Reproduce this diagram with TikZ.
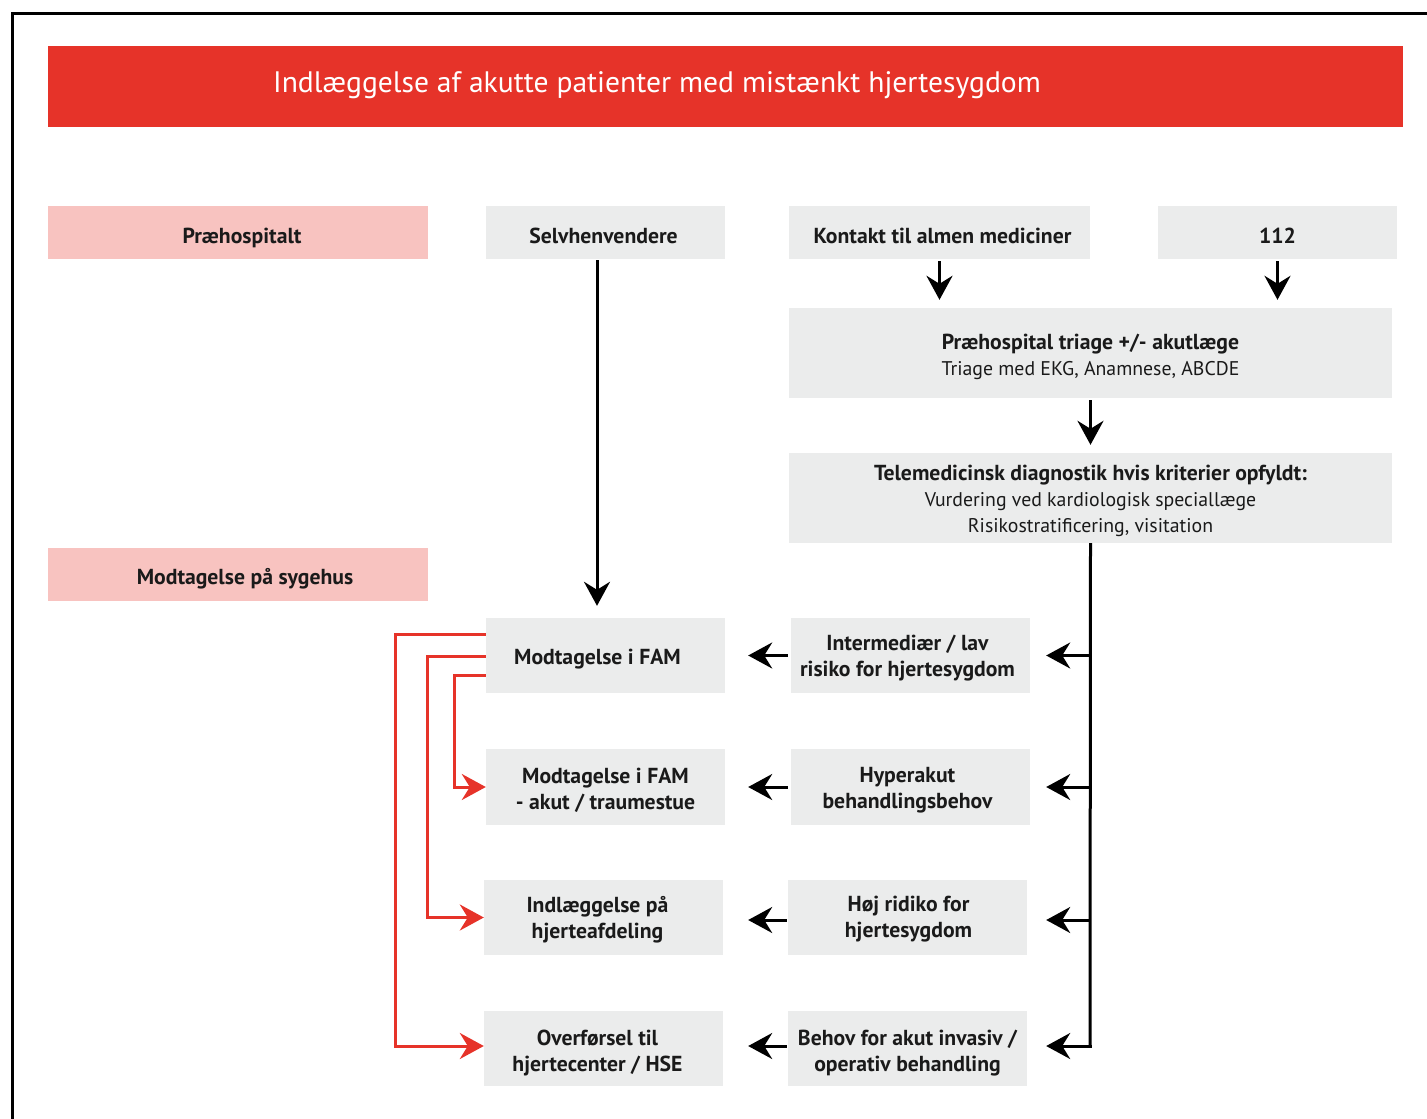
\documentclass[tikz,border=0pt]{standalone}
\usepackage{fontspec}
\setmainfont{PT Sans}
\usetikzlibrary{arrows.meta}
\definecolor{hred}{HTML}{E63329}
\definecolor{hpink}{HTML}{F8C3C0}
\definecolor{hgray}{HTML}{EBECEC}
\definecolor{htext}{HTML}{1A1A1A}
\newcommand{\bt}{\fontsize{21.7}{26}\selectfont\bfseries}
\newcommand{\rt}{\fontsize{19.8}{26}\selectfont\mdseries}
\tikzset{
  gbox/.style={rectangle, inner sep=0pt, fill=hgray},
  pbox/.style={rectangle, inner sep=0pt, fill=hpink},
  lbl/.style={inner sep=0pt, align=center, text=htext, font=\bt},
  arr/.style={line width=3pt, draw=black, -{Stealth[length=24pt, width=26pt, inset=8pt]}},
  rarr/.style={line width=3pt, draw=hred, -{Stealth[length=24pt, width=26pt, inset=8pt]}},
  blk/.style={line width=3pt, draw=black},
}
\begin{document}
\begin{tikzpicture}[x=1pt, y=-1pt]
\useasboundingbox (0,0) rectangle (1427,1119);
% frame
\draw[line width=3pt] (12,1125) -- (12,13) -- (1435,13);
% title bar
\node[rectangle, fill=hred, minimum width=1355pt, minimum height=81pt, inner sep=0pt] (title) at (725.5,86.5) {};
\node[text=white, font=\fontsize{29.6}{32}\selectfont, anchor=base] (titletext) at (657,92.5) {Indlæggelse af akutte patienter med mistænkt hjertesygdom};
% phase labels
\node[pbox, minimum width=380pt, minimum height=53pt] (praehosp) at (238,232.5) {};
\node[lbl] (tpraehosp) at ([xshift=4pt,yshift=-5.5pt]praehosp.center) {Præhospitalt};
\node[pbox, minimum width=380pt, minimum height=53pt] (modsyg) at (238,574.5) {};
\node[lbl] (tmodsyg) at ([xshift=7pt,yshift=-4pt]modsyg.center) {Modtagelse på sygehus};
% top row
\node[gbox, minimum width=239pt, minimum height=53pt] (self) at (605.5,232.5) {};
\node[lbl] (tself) at ([xshift=-2pt,yshift=-3pt]self.center) {Selvhenvendere};
\node[gbox, minimum width=301pt, minimum height=53pt] (kontakt) at (939.5,232.5) {};
\node[lbl] (tkontakt) at ([xshift=3pt,yshift=-3pt]kontakt.center) {Kontakt til almen mediciner};
\node[gbox, minimum width=239pt, minimum height=53pt] (n112) at (1277.5,232.5) {};
\node[lbl] (tn112) at ([yshift=-3pt]n112.center) {112};
\node[gbox, minimum width=603pt, minimum height=90pt] (triage) at (1090.5,353) {};
\node[lbl] (ttriage) at ([yshift=-4pt]triage.center) {Præhospital triage +/- akutlæge\\\rt Triage med EKG, Anamnese, ABCDE};
\node[gbox, minimum width=603pt, minimum height=90pt] (tele) at (1090.5,498) {};
\node[lbl] (ttele) at ([yshift=-3pt]tele.center) {Telemedicinsk diagnostik hvis kriterier opfyldt:\\\rt Vurdering ved kardiologisk speciallæge\\\rt Risikostratificering, visitation};
% left column
\node[gbox, minimum width=239pt, minimum height=75pt] (fam) at (605.5,655.5) {};
\node[lbl] (tfam) at ([xshift=-8pt,yshift=-4pt]fam.center) {Modtagelse i FAM};
\node[gbox, minimum width=239pt, minimum height=76pt] (famakut) at (605.5,787) {};
\node[lbl] (tfamakut) at ([yshift=-3pt]famakut.center) {Modtagelse i FAM\\- akut / traumestue};
\node[gbox, minimum width=239pt, minimum height=75pt] (indl) at (603.5,917.5) {};
\node[lbl] (tindl) at ([xshift=-6pt,yshift=-2pt]indl.center) {Indlæggelse på\\hjerteafdeling};
\node[gbox, minimum width=239pt, minimum height=75pt] (overf) at (603.5,1048.5) {};
\node[lbl] (toverf) at ([xshift=-6pt,yshift=-4.5pt]overf.center) {Overførsel til\\hjertecenter / HSE};
% right column
\node[gbox, minimum width=239pt, minimum height=75pt] (inter) at (910.5,655.5) {};
\node[lbl] (tinter) at ([xshift=-3pt,yshift=-3pt]inter.center) {Intermediær / lav\\risiko for hjertesygdom};
\node[gbox, minimum width=239pt, minimum height=76pt] (hyper) at (910.5,787) {};
\node[lbl] (thyper) at ([xshift=-3pt,yshift=-3pt]hyper.center) {Hyperakut\\behandlingsbehov};
\node[gbox, minimum width=239pt, minimum height=75pt] (hoej) at (907.5,917.5) {};
\node[lbl] (thoej) at ([xshift=1pt,yshift=-1.5pt]hoej.center) {Høj ridiko for\\hjertesygdom};
\node[gbox, minimum width=239pt, minimum height=75pt] (behov) at (907.5,1048.5) {};
\node[lbl] (tbehov) at ([yshift=-4.5pt]behov.center) {Behov for akut invasiv /\\operativ behandling};
% connectors top
\draw[arr, shorten <=1pt, shorten >=12pt] (self.south -| 597,0) -- (fam.north -| 597,0);
\draw[arr, shorten <=2pt, shorten >=8pt] (kontakt.south) -- (kontakt.south |- triage.north);
\draw[arr, shorten <=2pt, shorten >=8pt] (n112.south) -- (n112.south |- triage.north);
\draw[arr, shorten <=2pt, shorten >=8pt] (triage.south) -- (tele.north);
% trunk
\coordinate (trunkend) at (1090,1046);
\draw[blk] (tele.south) -- ([yshift=-1.5pt]trunkend);
\draw[arr, shorten >=16pt] (trunkend |- inter.east) -- (inter.east);
\draw[arr, shorten >=16pt] (trunkend |- hyper.east) -- (hyper.east);
\draw[arr, shorten >=19pt] ([yshift=-2.5pt]trunkend |- hoej.east) -- ([yshift=-2.5pt]hoej.east);
\draw[arr, shorten >=19pt] ([xshift=1.5pt]trunkend) -- (trunkend -| behov.east);
% middle arrows
\draw[arr, shorten <=3pt, shorten >=23pt] (inter.west) -- (fam.east);
\draw[arr, shorten <=3pt, shorten >=23pt] (hyper.west) -- (famakut.east);
\draw[arr, shorten <=1pt, shorten >=25pt] ([yshift=-2.5pt]hoej.west) -- ([yshift=-2.5pt]indl.east);
\draw[arr, shorten <=1pt, shorten >=25pt] ([yshift=2.5pt]behov.west) -- ([yshift=2.5pt]overf.east);
% red connectors
\draw[rarr] ([yshift=21.5pt]fam.west) -- ++(-90,0) |- ([yshift=2.5pt]overf.west);
\draw[rarr] ([yshift=-0.5pt]fam.west) -- ++(-58,0) |- (indl.west);
\draw[rarr] ([yshift=-19.5pt]fam.west) -- ++(-31,0) |- (famakut.west);
\end{tikzpicture}
\end{document}
